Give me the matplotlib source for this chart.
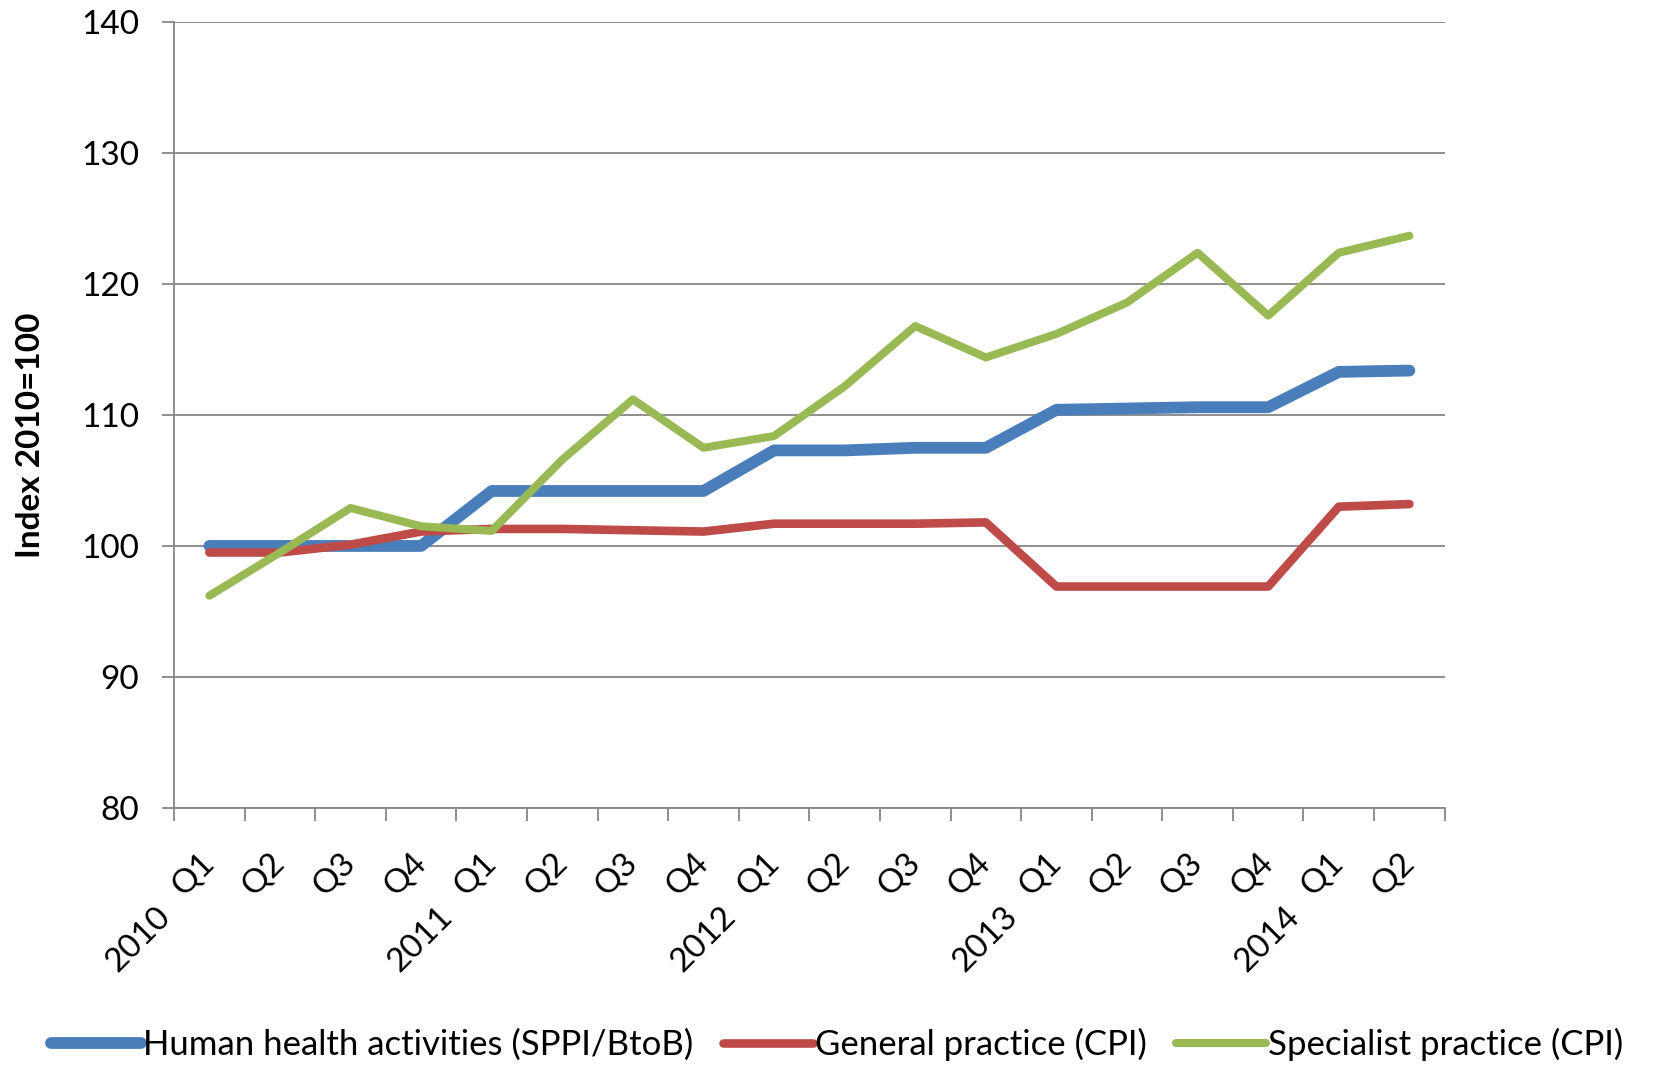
import numpy as np
import matplotlib.pyplot as plt

# quarters 2010 Q1 .. 2014 Q2
quarters = ["Q1", "Q2", "Q3", "Q4"] * 4 + ["Q1", "Q2"]
years = ["2010", "2011", "2012", "2013", "2014"]

human_health = [100.0, 100.0, 100.0, 100.0, 104.2, 104.2, 104.2, 104.2,
                107.3, 107.3, 107.5, 107.5, 110.4, 110.5, 110.6, 110.6,
                113.3, 113.4]
general_practice = [99.5, 99.5, 100.1, 101.1, 101.3, 101.3, 101.2, 101.1,
                    101.7, 101.7, 101.7, 101.8, 96.9, 96.9, 96.9, 96.9,
                    103.0, 103.2]
specialist_practice = [96.2, 99.5, 102.9, 101.5, 101.15, 106.6, 111.2, 107.5,
                       108.4, 112.2, 116.8, 114.4, 116.2, 118.6, 122.4, 117.6,
                       122.4, 123.7]

plt.rcParams['font.family'] = ['Lato', 'DejaVu Sans']

fig = plt.figure(figsize=(16.74, 10.67), dpi=100)
ax = fig.add_axes([0.104, 0.243, 0.759, 0.736])

x = np.arange(len(quarters))
ax.plot(x, human_health, color="#4A7EBB", linewidth=8.5, solid_capstyle='round',
        label="Human health activities (SPPI/BtoB)", zorder=3)
ax.plot(x, general_practice, color="#BE4B48", linewidth=6.2, solid_capstyle='round',
        label="General practice (CPI)", zorder=4)
ax.plot(x, specialist_practice, color="#98B954", linewidth=5.8, solid_capstyle='round',
        label="Specialist practice (CPI)", zorder=5)

ax.set_xlim(-0.5, len(quarters) - 0.5)
ax.set_ylim(80, 140)
ax.set_yticks(np.arange(80, 141, 10))
ax.grid(axis='y', color="#868686", linewidth=1.3)
ax.set_axisbelow(True)

for s in ['top', 'right']:
    ax.spines[s].set_visible(False)
for s in ['left', 'bottom']:
    ax.spines[s].set_color("#868686")
    ax.spines[s].set_linewidth(1.3)

ax.tick_params(axis='y', length=9, width=1.3, color="#868686", pad=16, labelsize=24)
ax.set_xticks(x)
ax.set_xticklabels(quarters, rotation=45, ha='right', va='center', rotation_mode='anchor')
ax.tick_params(axis='x', which='major', length=0, pad=36, labelsize=24)
ax.set_xticks(np.arange(-0.5, len(quarters)), minor=True)
ax.tick_params(axis='x', which='minor', length=9, width=1.3, color="#868686")

for i, yr in enumerate(years):
    ax.annotate(yr, xy=(i * 4 - 0.5, 0), xycoords=ax.get_xaxis_transform(),
                xytext=(-6, -75), textcoords='offset points', rotation=45,
                ha='right', va='center', rotation_mode='anchor', fontsize=24)

fig.text(0.018, 0.592, "Index 2010=100", rotation=90, fontsize=24, fontweight='bold',
         ha='center', va='center')

leg = fig.legend(loc='lower center', bbox_to_anchor=(0.5, -0.024), ncol=3, frameon=False,
                 fontsize=25, handlelength=2.6, handletextpad=0.05, columnspacing=0.85)

plt.savefig("out.png", dpi=100)
